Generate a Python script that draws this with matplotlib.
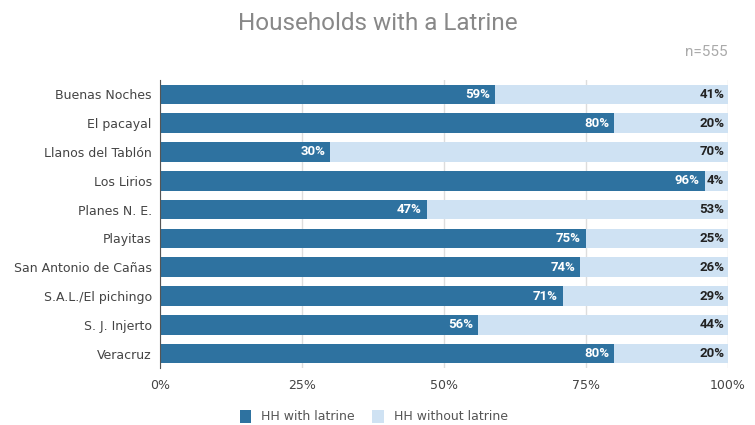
import matplotlib.pyplot as plt
import numpy as np

# share of households per community (%)
communities = ['Buenas Noches', 'El pacayal', 'Llanos del Tablón', 'Los Lirios',
               'Planes N. E.', 'Playitas', 'San Antonio de Cañas',
               'S.A.L./El pichingo', 'S. J. Injerto', 'Veracruz']
with_latrine = [59, 80, 30, 96, 47, 75, 74, 71, 56, 80]
without_latrine = [41, 20, 70, 4, 53, 25, 26, 29, 44, 20]
n_total = 555

dark = '#2e72a0'
light = '#cfe2f3'

fig = plt.figure(figsize=(7.55, 4.25), dpi=100)
ax = fig.add_axes([0.212, 0.134, 0.752, 0.678])

y = np.arange(len(communities))
h = 0.68
ax.barh(y, with_latrine, height=h, color=dark, zorder=3, label='HH with latrine')
ax.barh(y, without_latrine, left=with_latrine, height=h, color=light, zorder=3,
        label='HH without latrine')

for yi, a, b in zip(y, with_latrine, without_latrine):
    ax.text(a - 0.9, yi, f'{a}%', ha='right', va='center', color='white',
            fontsize=9.5, fontweight='bold', family='Roboto', zorder=4)
    ax.text(a + b - 0.6, yi, f'{b}%', ha='right', va='center', color='#222222',
            fontsize=9.5, fontweight='bold', family='Roboto', zorder=4)

ax.set_xlim(0, 100)
ax.set_ylim(len(communities) - 0.5, -0.5)
ax.set_yticks(y)
ax.set_yticklabels(communities, fontsize=9, color='#444444')
ax.set_xticks([0, 25, 50, 75, 100])
ax.set_xticklabels(['0%', '25%', '50%', '75%', '100%'], fontsize=9, color='#444444')
ax.tick_params(axis='both', length=0, pad=6)
ax.tick_params(axis='x', pad=8)
ax.grid(axis='x', color='#dddddd', linewidth=1, zorder=0)
for s in ['top', 'right', 'bottom']:
    ax.spines[s].set_visible(False)
ax.spines['left'].set_color('#555555')
ax.spines['left'].set_zorder(5)

fig.text(0.5, 0.945, 'Households with a Latrine', ha='center', va='center',
         fontsize=17.5, color='#888888', family='Roboto')
fig.text(0.964, 0.878, f'n={n_total}', ha='right', va='center', fontsize=11,
         color='#aaaaaa', family='Roboto')

leg = fig.legend(loc='center', bbox_to_anchor=(0.495, 0.02), ncol=2, frameon=False,
                 fontsize=9, handlelength=0.9, handleheight=1.2, columnspacing=1.4,
                 handletextpad=0.8)
for t in leg.get_texts():
    t.set_color('#555555')

fig.savefig('out.png', dpi=100)
